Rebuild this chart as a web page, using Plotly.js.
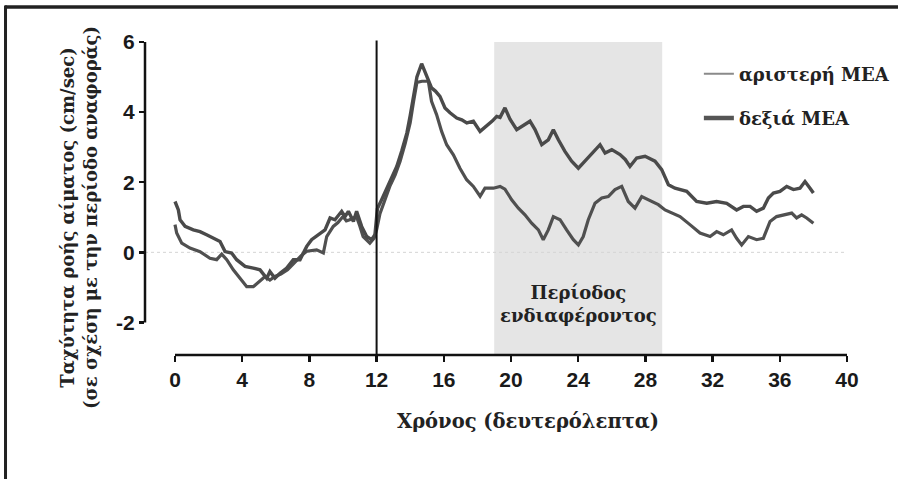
<!DOCTYPE html>
<html>
<head>
<meta charset="utf-8">
<script src="https://cdn.plot.ly/plotly-3.0.1.min.js"></script>
<style>html,body{margin:0;padding:0;background:#fff;}#chart{width:898px;height:479px;}</style>
</head>
<body>
<div id="chart"></div>
<script>
// ---- data ----
var seriesNames = ["αριστερή ΜΕΑ", "δεξιά ΜΕΑ"];
var xTickVals = [0, 4, 8, 12, 16, 20, 24, 28, 32, 36, 40];
var yTickVals = [-2, 0, 2, 4, 6];
var stimulusTime = 12;
var periodStart = 19;
var periodEnd = 29;
var periodLabel = "Περίοδος<br>ενδιαφέροντος";
var xTitle = "Χρόνος (δευτερόλεπτα)";
var yTitleLines = ["Ταχύτητα ροής αίματος (cm/sec)", "(σε σχέση με την περίοδο αναφοράς)"];

// δεξιά ΜΕΑ (upper curve after the peak)
var tRight = [0, 0.2, 0.3, 0.6, 1.09, 1.49, 1.88, 2.28, 2.68, 2.98, 3.37, 3.67, 4.17, 4.66, 5.06, 5.46, 5.65, 5.95, 6.25, 6.65, 7.04, 7.44, 7.84, 8.13, 8.53, 8.93, 9.23, 9.52, 9.92, 10.12, 10.32, 10.62, 10.81, 11.11, 11.41, 11.7, 11.9, 12.05, 12.3, 12.6, 12.9, 13.2, 13.5, 13.8, 14.0, 14.2, 14.4, 14.68, 14.95, 15.27, 15.5, 15.77, 16.07, 16.37, 16.77, 17.07, 17.37, 17.76, 18.16, 18.56, 18.9, 19.15, 19.35, 19.64, 19.94, 20.34, 20.83, 21.13, 21.43, 21.83, 22.22, 22.52, 22.82, 23.21, 23.61, 24.01, 24.4, 24.9, 25.3, 25.6, 26.0, 26.49, 26.8, 27.08, 27.48, 27.98, 28.57, 28.97, 29.37, 29.76, 30.16, 30.46, 31.05, 31.65, 32.24, 32.84, 33.43, 33.83, 34.23, 34.62, 35.02, 35.32, 35.62, 36.01, 36.41, 36.81, 37.2, 37.5, 37.8, 38.0];
var vRight = [1.45, 1.21, 0.93, 0.74, 0.64, 0.59, 0.5, 0.4, 0.31, 0.02, -0.02, -0.21, -0.4, -0.45, -0.5, -0.74, -0.55, -0.74, -0.6, -0.45, -0.21, -0.21, 0.17, 0.36, 0.5, 0.64, 0.98, 0.93, 1.17, 1.02, 1.17, 0.88, 1.17, 0.74, 0.45, 0.36, 0.5, 1.25, 1.5, 1.8, 2.1, 2.45, 2.9, 3.4, 3.9, 4.5, 5.0, 5.38, 5.05, 4.69, 4.6, 4.45, 4.12, 3.98, 3.83, 3.78, 3.69, 3.74, 3.45, 3.6, 3.75, 3.88, 3.85, 4.12, 3.8, 3.5, 3.64, 3.74, 3.5, 3.07, 3.21, 3.5, 3.21, 2.88, 2.6, 2.4, 2.6, 2.88, 3.07, 2.83, 2.93, 2.79, 2.65, 2.45, 2.69, 2.74, 2.6, 2.36, 1.93, 1.83, 1.79, 1.74, 1.45, 1.4, 1.45, 1.4, 1.21, 1.31, 1.31, 1.17, 1.26, 1.55, 1.69, 1.74, 1.88, 1.79, 1.83, 2.02, 1.83, 1.69];

// αριστερή ΜΕΑ (lower curve after the peak)
var tLeft = [0, 0.1, 0.4, 0.89, 1.49, 2.08, 2.48, 2.78, 3.08, 3.47, 3.87, 4.27, 4.66, 5.06, 5.36, 5.65, 5.95, 6.3, 6.7, 7.1, 7.5, 7.84, 8.13, 8.43, 8.83, 9.03, 9.42, 9.7, 10.0, 10.2, 10.4, 10.8, 11.0, 11.2, 11.6, 11.85, 12.0, 12.2, 12.5, 12.8, 13.1, 13.4, 13.7, 14.0, 14.2, 14.4, 14.7, 15.08, 15.27, 15.57, 15.87, 16.17, 16.57, 16.96, 17.36, 17.76, 18.16, 18.45, 18.95, 19.35, 19.64, 20.04, 20.44, 20.83, 21.23, 21.63, 21.92, 22.22, 22.52, 22.92, 23.31, 23.71, 24.01, 24.3, 24.6, 25.0, 25.4, 25.79, 26.19, 26.59, 26.98, 27.38, 27.78, 28.17, 28.77, 29.17, 29.56, 30.06, 30.65, 31.25, 31.85, 32.24, 32.64, 33.13, 33.43, 33.73, 34.13, 34.62, 35.02, 35.42, 35.81, 36.31, 36.71, 37.0, 37.3, 37.6, 38.0];
var vLeft = [0.79, 0.55, 0.26, 0.12, 0.02, -0.17, -0.21, -0.05, -0.21, -0.5, -0.74, -0.98, -0.98, -0.83, -0.69, -0.79, -0.69, -0.62, -0.5, -0.3, -0.1, 0.03, 0.05, 0.07, -0.02, 0.45, 0.74, 0.85, 1.02, 0.9, 0.93, 1.02, 0.75, 0.45, 0.26, 0.4, 0.64, 1.1, 1.5, 1.9, 2.2, 2.6, 3.1, 3.7, 4.3, 4.85, 4.88, 4.88, 4.31, 3.93, 3.45, 3.07, 2.78, 2.4, 2.07, 1.88, 1.6, 1.83, 1.83, 1.88, 1.8, 1.5, 1.26, 1.07, 0.83, 0.64, 0.36, 0.64, 1.02, 0.93, 0.64, 0.36, 0.21, 0.45, 0.93, 1.4, 1.55, 1.59, 1.79, 1.88, 1.45, 1.26, 1.59, 1.5, 1.36, 1.21, 1.12, 1.02, 0.79, 0.55, 0.45, 0.59, 0.5, 0.64, 0.4, 0.21, 0.45, 0.36, 0.4, 0.88, 1.02, 1.07, 1.12, 0.98, 1.07, 0.98, 0.83];

// ---- layout constants ----
var xRange = [-1.786, 40];
var yRange = [-2.929, 6];
var serif = "DejaVu Serif, serif";
var sans = "Liberation Sans, Arial, sans-serif";
function xPaper(v) { return (v - xRange[0]) / (xRange[1] - xRange[0]); }
function yPaper(v) { return (v - yRange[0]) / (yRange[1] - yRange[0]); }
function b(s) { return "<b>" + s + "</b>"; }

var traces = [
  {x: tLeft, y: vLeft, type: "scatter", mode: "lines", name: seriesNames[0], showlegend: false,
   line: {color: "#505050", width: 3.2}},
  {x: tRight, y: vRight, type: "scatter", mode: "lines", name: seriesNames[1], showlegend: false,
   line: {color: "#4a4a4a", width: 3.4}},
  {x: [null], y: [null], type: "scatter", mode: "lines", name: b(seriesNames[0]), legendgroup: "a",
   line: {color: "#8a8a8a", width: 2}},
  {x: [null], y: [null], type: "scatter", mode: "lines", name: b(seriesNames[1]), legendgroup: "b",
   line: {color: "#555555", width: 4.5}}
];

var layout = {
  width: 898, height: 479,
  margin: {l: 145, r: 51, t: 42, b: 124, pad: 0, autoexpand: false},
  paper_bgcolor: "#ffffff", plot_bgcolor: "rgba(0,0,0,0)",
  showlegend: true,
  legend: {x: 0.789, y: 0.957, xanchor: "left", yanchor: "top", bgcolor: "rgba(0,0,0,0)",
           traceorder: "grouped", tracegroupgap: 18,
           font: {family: serif, size: 18, color: "#222"}},
  xaxis: {range: xRange, tickvals: xTickVals, ticktext: xTickVals.map(function (v) { return b(String(v)); }),
          showline: false, showgrid: false, zeroline: false, automargin: false,
          ticks: "outside", ticklen: 6, tickwidth: 2.5, tickcolor: "#111",
          tickfont: {family: sans, size: 21, color: "#1a1a1a"}},
  yaxis: {range: yRange, tickvals: yTickVals, ticktext: yTickVals.map(function (v) { return b(String(v)); }),
          showline: false, showgrid: false, zeroline: false, automargin: false,
          ticks: "outside", ticklen: 5, tickwidth: 2.5, tickcolor: "#111",
          tickfont: {family: sans, size: 21, color: "#1a1a1a"}},
  shapes: [
    {type: "rect", xref: "x", yref: "paper", x0: periodStart, x1: periodEnd, y0: 0, y1: 1,
     fillcolor: "#e5e5e5", line: {width: 0}, layer: "below"},
    {type: "line", xref: "paper", yref: "y", x0: 0, x1: 1, y0: 0, y1: 0,
     line: {color: "#d4d4d4", width: 1, dash: "dot"}, layer: "below"},
    {type: "line", xref: "x", yref: "paper", x0: stimulusTime, x1: stimulusTime, y0: 0, y1: 1.005,
     line: {color: "#111", width: 2}},
    {type: "line", xref: "paper", yref: "paper", x0: xPaper(0), x1: 1, y0: 0, y1: 0,
     line: {color: "#111", width: 2.5}},
    {type: "line", xref: "paper", yref: "paper", x0: 0, x1: 0, y0: yPaper(-2), y1: 1,
     line: {color: "#111", width: 2.5}},
    {type: "line", xref: "paper", yref: "paper", x0: -0.1994, x1: 1.08, y0: 1.112, y1: 1.112,
     line: {color: "#222", width: 3.5}},
    {type: "line", xref: "paper", yref: "paper", x0: -0.1987, x1: -0.1987, y0: 1.117, y1: -0.4,
     line: {color: "#222", width: 3}}
  ],
  annotations: [
    {text: b(periodLabel), xref: "x", yref: "y", x: (periodStart + periodEnd) / 2, y: -1.47,
     showarrow: false, align: "center", xanchor: "center", yanchor: "middle",
     font: {family: serif, size: 18, color: "#222"}},
    {text: b(xTitle), xref: "paper", yref: "paper", x: 0.545, y: -0.2134,
     showarrow: false, xanchor: "center", yanchor: "middle",
     font: {family: serif, size: 19.5, color: "#222"}},
    {text: b(yTitleLines[0]) + "<br>" + b(yTitleLines[1]), xref: "paper", yref: "paper", x: -0.094, y: 0.438, textangle: -90,
     showarrow: false, xanchor: "center", yanchor: "middle", align: "center",
     font: {family: serif, size: 18, color: "#222"}}
  ]
};

Plotly.newPlot("chart", traces, layout, {displayModeBar: false, staticPlot: true});
</script>
</body>
</html>
